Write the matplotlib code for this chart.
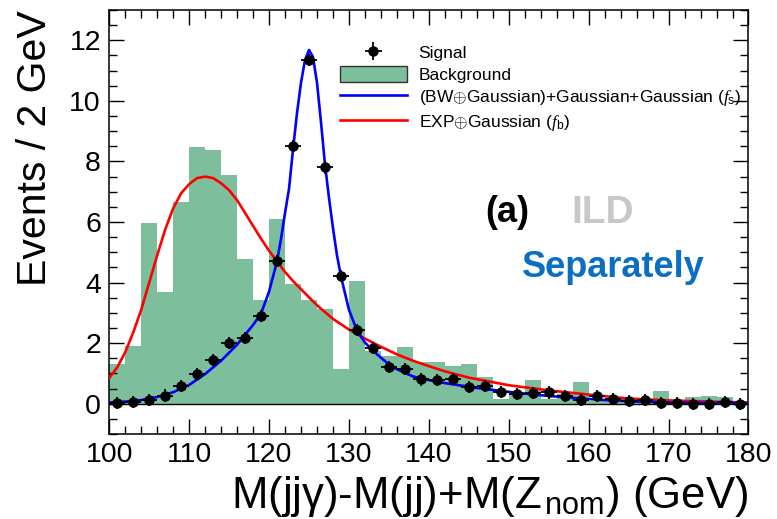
import numpy as np
import matplotlib
matplotlib.use("Agg")
import matplotlib.pyplot as plt
import matplotlib as mpl

mpl.rcParams.update({
    'font.family':        ['Liberation Sans', 'DejaVu Sans'],
    'mathtext.fontset':   'custom',
    'mathtext.rm':        'Liberation Sans',
    'mathtext.it':        'Liberation Serif:italic',
    'axes.linewidth':     1.1,
})

# histogram binning (2 GeV)
bin_edges = np.arange(100, 182, 2)
bin_centers = bin_edges[:-1] + 1

# background MC (events / 2 GeV)
background = [1.31, 1.91, 5.96, 3.69, 6.65, 8.47, 8.38, 7.56, 4.79, 3.43,
              6.10, 3.96, 3.43, 3.13, 1.15, 4.06, 1.75, 1.56, 1.86, 1.37,
              1.37, 1.23, 1.32, 0.88, 0.14, 0.32, 0.78, 0.14, 0.33, 0.73,
              0.10, 0.15, 0.18, 0.12, 0.43, 0.12, 0.21, 0.26, 0.21, 0.05]

# signal MC points
signal = [0.02, 0.05, 0.13, 0.27, 0.59, 0.99, 1.45, 2.00, 2.17, 2.90,
          4.70, 8.51, 11.35, 7.80, 4.22, 2.42, 1.84, 1.20, 1.14, 0.80,
          0.79, 0.82, 0.54, 0.58, 0.40, 0.32, 0.35, 0.37, 0.24, 0.12,
          0.25, 0.15, 0.10, 0.11, 0.02, 0.02, 0.00, 0.00, 0.06, 0.00]
signal_err = 0.2

# signal fit f_s
fs_x = [100, 102, 104, 106, 108, 110, 112, 114, 116, 118, 119, 120, 121,
        121.5, 122, 122.5, 123, 123.5, 124, 124.5, 125, 125.5, 126, 126.5,
        127, 127.5, 128, 128.5, 129, 130, 131, 132, 133, 134, 135, 136, 138,
        140, 142, 146, 150, 154, 158, 162, 166, 170, 175, 180]
fs_y = [0.04, 0.07, 0.12, 0.22, 0.38, 0.62, 0.98, 1.42, 1.95, 2.60, 2.98,
        3.70, 4.70, 5.45, 6.30, 7.10, 8.40, 9.60, 10.60, 11.35, 11.68,
        11.45, 10.60, 9.30, 7.90, 6.80, 5.80, 4.90, 4.20, 3.10, 2.42, 2.02,
        1.75, 1.52, 1.30, 1.14, 0.90, 0.78, 0.68, 0.52, 0.39, 0.28, 0.19,
        0.12, 0.07, 0.04, 0.03, 0.02]

# background fit f_b
fb_x = [100, 101, 102, 103, 104, 105, 106, 107, 108, 109, 110, 111, 112,
        113, 114, 115, 116, 117, 118, 119, 120, 121, 122, 123, 124, 126,
        128, 130, 132, 134, 136, 138, 140, 142, 145, 150, 155, 160, 165,
        170, 175, 180]
fb_y = [0.85, 1.20, 1.70, 2.35, 3.10, 4.00, 4.90, 5.75, 6.45, 6.95, 7.25,
        7.45, 7.50, 7.45, 7.28, 7.05, 6.72, 6.30, 5.87, 5.45, 5.05, 4.70,
        4.35, 4.05, 3.78, 3.25, 2.80, 2.45, 2.15, 1.88, 1.63, 1.42, 1.24,
        1.07, 0.86, 0.61, 0.44, 0.30, 0.17, 0.11, 0.07, 0.04]

fig = plt.figure(figsize=(7.77, 5.19), dpi=100)
ax = fig.add_axes([0.1406, 0.1638, 0.8227, 0.8169])

ax.hist(bin_centers, bins=bin_edges, weights=background, histtype='stepfilled',
        color='#7dbf9c', edgecolor='none', zorder=1)
ax.axhline(0, color='black', lw=1.0, zorder=2)
ax.plot(fb_x, fb_y, color='#ff0000', lw=1.9, zorder=3)
ax.plot(fs_x, fs_y, color='#0000ff', lw=1.9, zorder=4)
ax.errorbar(bin_centers, signal, xerr=1, yerr=signal_err, fmt='o', color='black',
            ms=6.5, elinewidth=1.3, capsize=0, zorder=5)

# legend proxies
h_sig = ax.errorbar([], [], xerr=[], yerr=[], fmt='o', color='black', ms=6.5,
                    elinewidth=1.3, capsize=3)
h_bkg = mpl.patches.Patch(facecolor='#7dbf9c', edgecolor='#333333', lw=1.0)
h_fs, = ax.plot([], [], color='#0000ff', lw=1.9)
h_fb, = ax.plot([], [], color='#ff0000', lw=1.9)
fig.legend([h_sig, h_bkg, h_fs, h_fb],
           ['Signal', 'Background',
            r'(BW$\oplus$Gaussian)+Gaussian+Gaussian ($f_{\rm s}$)',
            r'EXP$\oplus$Gaussian ($f_{\rm b}$)'],
           loc='upper left', bbox_to_anchor=(0.437, 0.915), frameon=False,
           fontsize=12.5, handlelength=3.9, handleheight=1.0,
           handletextpad=0.65, labelspacing=0.3,
           borderpad=0, borderaxespad=0)

ax.set_xlim(100, 180)
ax.set_ylim(-1, 13)
ax.set_xticks(np.arange(100, 181, 10))
ax.set_xticks(np.arange(100, 181, 2), minor=True)
ax.set_yticks(np.arange(0, 13, 2))
ax.set_yticks(np.arange(-1, 13.01, 0.5), minor=True)
ax.tick_params(which='both', direction='in', top=True, right=True,
               labelsize=20.5, width=1.0)
ax.tick_params(which='major', length=11, pad=6)
ax.tick_params(which='minor', length=5.5)

ax.set_xlabel('M(jj\u03b3)-M(jj)+M(Z$_{\\,\\rm nom}$) (GeV)', fontsize=31.5,
              loc='right')
ax.set_ylabel('Events / 2 GeV', fontsize=29.5, loc='top')
ax.yaxis.set_label_coords(-0.087, 1.0)

fig.text(0.6525, 0.5896, '(a)', fontsize=26, fontweight='bold',
         ha='center', va='center')
fig.text(0.776, 0.5896, 'ILD', fontsize=28, fontweight='bold', color='#c8c8c8',
         ha='center', va='center')
fig.text(0.789, 0.4855, 'Separately', fontsize=26, fontweight='bold',
         color='#0a6fc2', ha='center', va='center')

fig.savefig('out.png', dpi=100)
